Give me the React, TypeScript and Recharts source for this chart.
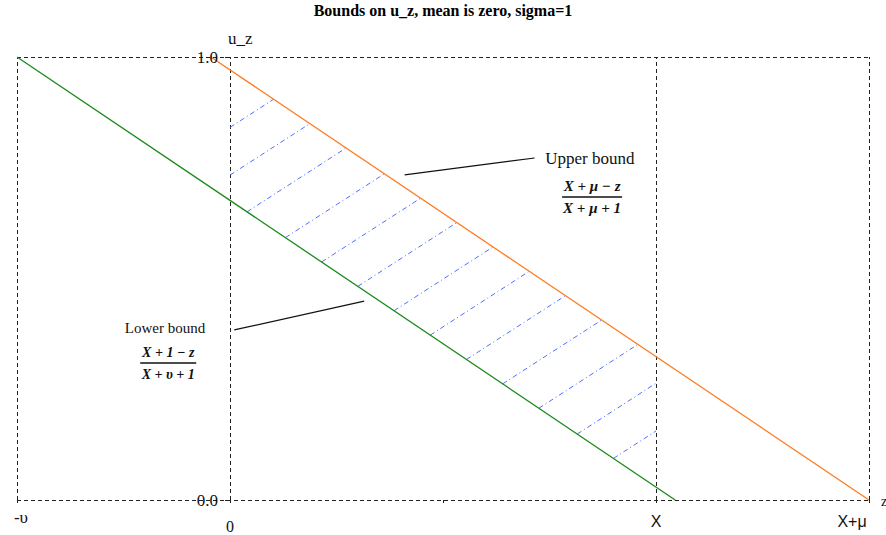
import React from "react";
import { LineChart, Line, XAxis, YAxis, ReferenceLine, ReferenceDot } from "recharts";

// schematic units on z: -υ = -1, 0, X = 2, X+μ = 3
const zTicks = [-1, 0, 1, 2, 3];
const zTickLabels = ["-υ", "0", "", "X", "X+μ"];
const uTicks = [0, 1];
const uTickLabels = ["0.0", "1.0"];
const frameZ = [-1, 0, 2, 3];

const lowerZ = [-1, 2.09];
const lowerU = [1, 0];
const upperZ = [-0.09, 3];
const upperU = [1, 0];

// hatching: starts on the lower bound, climbs to the upper bound, kept inside 0..X
const hatchStartZ = [-0.26, -0.09, 0.08, 0.26, 0.43, 0.6, 0.77, 0.94, 1.11, 1.28, 1.45, 1.63, 1.8];
const hatchSlope = 0.31;
const hatchRange = [0, 2];

const upperLeaderZ = [0.82, 1.43];
const upperLeaderU = [0.734, 0.772];
const lowerLeaderZ = [0.02, 0.63];
const lowerLeaderU = [0.384, 0.449];

const upperNote = { z: 1.48, u: 0.77, text: "Upper bound" };
const upperFrac = { z: 1.7, u: 0.684, num: "X + μ − z", den: "X + μ + 1" };
const lowerNote = { z: -0.305, u: 0.388, text: "Lower bound" };
const lowerFrac = { z: -0.29, u: 0.309, num: "X + 1 − z", den: "X + υ + 1" };

const serif = "'Liberation Serif', 'Times New Roman', serif";
const sans = "'Liberation Sans', Arial, sans-serif";
const frameStroke = "#222";
const dash = "4 3";

const toPoints = (zs: number[], us: number[]) => zs.map((z, i) => ({ z, u: us[i] }));
const lowerData = toPoints(lowerZ, lowerU);
const upperData = toPoints(upperZ, upperU);

const lineAt = (zs: number[], us: number[]) => (z: number) =>
  us[0] + ((us[1] - us[0]) * (z - zs[0])) / (zs[1] - zs[0]);
const lowerAt = lineAt(lowerZ, lowerU);
const upperAt = lineAt(upperZ, upperU);
const upperSlope = (upperU[1] - upperU[0]) / (upperZ[1] - upperZ[0]);

const hatchSegments = hatchStartZ.map((z0) => {
  const u0 = lowerAt(z0);
  const zEnd = z0 + (upperAt(z0) - u0) / (hatchSlope - upperSlope);
  const za = Math.max(z0, hatchRange[0]);
  const zb = Math.min(zEnd, hatchRange[1]);
  return [
    { x: za, y: u0 + hatchSlope * (za - z0) },
    { x: zb, y: u0 + hatchSlope * (zb - z0) },
  ];
});

const tickStyle: Record<string, { font: string; size: number; dx: number; dy: number }> = {
  "-υ": { font: serif, size: 17, dx: 4, dy: 18 },
  "0": { font: serif, size: 16, dx: 0, dy: 27 },
  "X": { font: sans, size: 16, dx: 0, dy: 22 },
  "X+μ": { font: sans, size: 16, dx: -17, dy: 22 },
};

const ZTick = (props: any) => {
  const { x, y, payload } = props;
  const label = zTickLabels[zTicks.indexOf(payload.value)];
  if (!label) return null;
  const st = tickStyle[label];
  return (
    <text x={x + st.dx} y={y + st.dy} textAnchor="middle" fontFamily={st.font} fontSize={st.size} fill="#111">
      {label}
    </text>
  );
};

const UTick = (label: string, withAxisName: boolean) => (p: any) => (
  <g>
    <line x1={p.cx - 5} y1={p.cy} x2={p.cx} y2={p.cy} stroke="#222" shapeRendering="crispEdges" />
    <text x={p.cx - 12} y={p.cy + 6} textAnchor="end" fontFamily={serif} fontSize={17} fill="#111">
      {label}
    </text>
    {withAxisName && (
      <text x={p.cx - 2} y={p.cy - 13} fontFamily={serif} fontSize={17} fill="#111">
        u_z
      </text>
    )}
  </g>
);

const NoteText = (text: string, size: number, anchor: "start" | "middle") => (p: any) => (
  <text x={p.cx} y={p.cy + 5} textAnchor={anchor} fontFamily={serif} fontSize={size} fill="#111">
    {text}
  </text>
);

const Fraction = (num: string, den: string, half: number, size: number) => (p: any) => (
  <g fontFamily={serif} fontSize={size} fontStyle="italic" fontWeight="bold" fill="#111" textAnchor="middle">
    <text x={p.cx} y={p.cy - 6}>{num}</text>
    <line x1={p.cx - half} y1={p.cy} x2={p.cx + half} y2={p.cy} stroke="#111" strokeWidth={1.5} />
    <text x={p.cx} y={p.cy + 16}>{den}</text>
  </g>
);

const AxisName = (p: any) => (
  <text x={p.cx + 12} y={p.cy + 6} fontFamily={serif} fontSize={14} fill="#111">
    z
  </text>
);

export default function App() {
  return (
    <div style={{ position: "absolute", left: 0, top: 0, width: 886, height: 535, background: "#fff" }}>
      <div
        style={{
          position: "absolute",
          left: 0,
          top: 2,
          width: 886,
          textAlign: "center",
          fontFamily: serif,
          fontWeight: "bold",
          fontSize: 16,
        }}
      >
        Bounds on u_z, mean is zero, sigma=1
      </div>
      <LineChart width={886} height={535} margin={{ top: 57, right: 17, bottom: 0, left: 17 }}>
        <XAxis
          type="number"
          dataKey="z"
          domain={[-1, 3]}
          ticks={zTicks}
          interval={0}
          allowDataOverflow
          height={35}
          tickSize={3}
          tick={<ZTick />}
          axisLine={{ stroke: frameStroke, strokeDasharray: dash, shapeRendering: "crispEdges" }}
          tickLine={{ stroke: frameStroke, shapeRendering: "crispEdges" }}
        />
        <YAxis type="number" dataKey="u" domain={[0, 1]} ticks={uTicks} hide />

        {frameZ.map((z) => (
          <ReferenceLine
            key={`fz${z}`}
            x={z}
            stroke={frameStroke}
            strokeDasharray={dash}
            shapeRendering="crispEdges"
          />
        ))}
        <ReferenceLine y={1} stroke={frameStroke} strokeDasharray={dash} shapeRendering="crispEdges" />

        {hatchSegments.map((seg, i) => (
          <ReferenceLine key={`h${i}`} segment={seg} stroke="#4d70ff" strokeWidth={1} strokeDasharray="5 3 1 3" />
        ))}

        <Line data={upperData} dataKey="u" stroke="#ff7b1f" strokeWidth={1.3} dot={false} isAnimationActive={false} />
        <Line data={lowerData} dataKey="u" stroke="#1a8a1a" strokeWidth={1.3} dot={false} isAnimationActive={false} />

        <ReferenceLine
          segment={toPoints(upperLeaderZ, upperLeaderU).map((p) => ({ x: p.z, y: p.u }))}
          stroke="#111"
          strokeWidth={1.2}
        />
        <ReferenceLine
          segment={toPoints(lowerLeaderZ, lowerLeaderU).map((p) => ({ x: p.z, y: p.u }))}
          stroke="#111"
          strokeWidth={1.2}
        />

        {uTicks.map((u, i) => (
          <ReferenceDot key={`ut${u}`} x={0} y={u} r={0} shape={UTick(uTickLabels[i], u === 1)} />
        ))}
        <ReferenceDot x={3} y={0} r={0} shape={AxisName} />

        <ReferenceDot x={upperNote.z} y={upperNote.u} r={0} shape={NoteText(upperNote.text, 17, "start")} />
        <ReferenceDot x={upperFrac.z} y={upperFrac.u} r={0} shape={Fraction(upperFrac.num, upperFrac.den, 30, 15)} />
        <ReferenceDot x={lowerNote.z} y={lowerNote.u} r={0} shape={NoteText(lowerNote.text, 15, "middle")} />
        <ReferenceDot x={lowerFrac.z} y={lowerFrac.u} r={0} shape={Fraction(lowerFrac.num, lowerFrac.den, 28, 14)} />
      </LineChart>
    </div>
  );
}
